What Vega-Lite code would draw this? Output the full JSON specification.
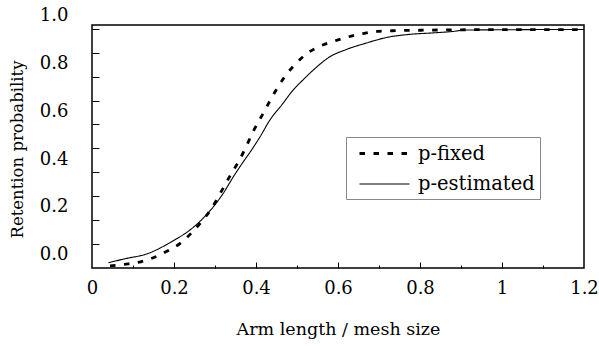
{
  "$schema": "https://vega.github.io/schema/vega-lite/v6.json",
  "autosize": "none",
  "width": 492,
  "height": 243,
  "padding": {"left": 92, "top": 25, "right": 15, "bottom": 79},
  "background": "white",
  "config": {
    "font": "DejaVu Serif",
    "view": {"stroke": "black", "strokeWidth": 1.5},
    "axis": {
      "labelColor": "black", "titleColor": "black", "tickColor": "black",
      "labelFont": "DejaVu Serif", "titleFont": "DejaVu Serif",
      "titleFontWeight": "normal", "grid": false, "domain": false
    },
    "legend": {
      "orient": "none", "legendX": 254, "legendY": 112,
      "padding": 5, "strokeColor": "#888", "fillColor": "white",
      "labelFont": "DejaVu Serif", "labelFontSize": 19.5, "labelColor": "black",
      "symbolType": "M-0.3,0H4.7", "symbolSize": 400, "symbolStrokeColor": "black",
      "symbolFillColor": "transparent",
      "labelOffset": 44, "rowPadding": 10
    }
  },
  "data": {
    "values": [
      {"x": 0.044, "y": -0.091, "s": "p-fixed"},
      {"x": 0.083, "y": -0.084, "s": "p-fixed"},
      {"x": 0.119, "y": -0.074, "s": "p-fixed"},
      {"x": 0.151, "y": -0.056, "s": "p-fixed"},
      {"x": 0.185, "y": -0.028, "s": "p-fixed"},
      {"x": 0.215, "y": 0.003, "s": "p-fixed"},
      {"x": 0.244, "y": 0.049, "s": "p-fixed"},
      {"x": 0.268, "y": 0.096, "s": "p-fixed"},
      {"x": 0.290, "y": 0.145, "s": "p-fixed"},
      {"x": 0.307, "y": 0.194, "s": "p-fixed"},
      {"x": 0.324, "y": 0.247, "s": "p-fixed"},
      {"x": 0.341, "y": 0.298, "s": "p-fixed"},
      {"x": 0.359, "y": 0.349, "s": "p-fixed"},
      {"x": 0.376, "y": 0.408, "s": "p-fixed"},
      {"x": 0.393, "y": 0.470, "s": "p-fixed"},
      {"x": 0.417, "y": 0.545, "s": "p-fixed"},
      {"x": 0.436, "y": 0.605, "s": "p-fixed"},
      {"x": 0.454, "y": 0.658, "s": "p-fixed"},
      {"x": 0.473, "y": 0.707, "s": "p-fixed"},
      {"x": 0.498, "y": 0.756, "s": "p-fixed"},
      {"x": 0.522, "y": 0.794, "s": "p-fixed"},
      {"x": 0.554, "y": 0.826, "s": "p-fixed"},
      {"x": 0.588, "y": 0.847, "s": "p-fixed"},
      {"x": 0.624, "y": 0.866, "s": "p-fixed"},
      {"x": 0.661, "y": 0.880, "s": "p-fixed"},
      {"x": 0.695, "y": 0.889, "s": "p-fixed"},
      {"x": 0.732, "y": 0.892, "s": "p-fixed"},
      {"x": 0.800, "y": 0.894, "s": "p-fixed"},
      {"x": 0.900, "y": 0.896, "s": "p-fixed"},
      {"x": 1.000, "y": 0.897, "s": "p-fixed"},
      {"x": 1.100, "y": 0.897, "s": "p-fixed"},
      {"x": 1.200, "y": 0.897, "s": "p-fixed"},
      {"x": 0.040, "y": -0.078, "s": "p-estimated"},
      {"x": 0.076, "y": -0.063, "s": "p-estimated"},
      {"x": 0.137, "y": -0.039, "s": "p-estimated"},
      {"x": 0.198, "y": 0.014, "s": "p-estimated"},
      {"x": 0.239, "y": 0.059, "s": "p-estimated"},
      {"x": 0.271, "y": 0.108, "s": "p-estimated"},
      {"x": 0.296, "y": 0.156, "s": "p-estimated"},
      {"x": 0.320, "y": 0.212, "s": "p-estimated"},
      {"x": 0.345, "y": 0.282, "s": "p-estimated"},
      {"x": 0.369, "y": 0.344, "s": "p-estimated"},
      {"x": 0.385, "y": 0.383, "s": "p-estimated"},
      {"x": 0.410, "y": 0.449, "s": "p-estimated"},
      {"x": 0.434, "y": 0.519, "s": "p-estimated"},
      {"x": 0.463, "y": 0.582, "s": "p-estimated"},
      {"x": 0.491, "y": 0.645, "s": "p-estimated"},
      {"x": 0.515, "y": 0.687, "s": "p-estimated"},
      {"x": 0.540, "y": 0.728, "s": "p-estimated"},
      {"x": 0.580, "y": 0.783, "s": "p-estimated"},
      {"x": 0.621, "y": 0.814, "s": "p-estimated"},
      {"x": 0.670, "y": 0.841, "s": "p-estimated"},
      {"x": 0.719, "y": 0.864, "s": "p-estimated"},
      {"x": 0.776, "y": 0.877, "s": "p-estimated"},
      {"x": 0.832, "y": 0.883, "s": "p-estimated"},
      {"x": 0.880, "y": 0.889, "s": "p-estimated"},
      {"x": 0.910, "y": 0.895, "s": "p-estimated"},
      {"x": 1.000, "y": 0.896, "s": "p-estimated"},
      {"x": 1.100, "y": 0.897, "s": "p-estimated"},
      {"x": 1.200, "y": 0.897, "s": "p-estimated"}
    ]
  },
  "resolve": {"axis": {"x": "independent", "y": "independent"}},
  "layer": [
    {
      "mark": {"type": "line", "interpolate": "monotone", "color": "black"},
      "encoding": {
        "x": {"field": "x", "type": "quantitative", "scale": {"domain": [0, 1.2], "nice": false, "zero": false},
          "axis": {"orient": "bottom", "values": [0, 0.2, 0.4, 0.6, 0.8, 1, 1.2], "format": ".1~f",
            "ticks": false, "tickSize": 0, "labelPadding": 11, "labelFontSize": 18, "labelFlush": false, "labelOverlap": false,
            "title": "Arm length / mesh size", "titleFontSize": 17.5, "titleY": 61, "titleBaseline": "middle"}},
        "y": {"field": "y", "type": "quantitative", "scale": {"domain": [-0.1, 0.916], "nice": false, "zero": false},
          "axis": {"orient": "left", "values": [-0.095, 0.105, 0.305, 0.505, 0.705, 0.905],
            "labelExpr": "format(datum.value + 0.095, '.1f')", "labelOffset": -12,
            "ticks": false, "tickSize": 0, "labelPadding": 24, "labelFontSize": 18, "labelFlush": false, "labelOverlap": false,
            "title": "Retention probability", "titleFontSize": 16.5, "titleX": -75, "titleY": 124, "titleBaseline": "middle", "titleAngle": -90}},
        "strokeDash": {"field": "s", "type": "nominal",
          "scale": {"domain": ["p-fixed", "p-estimated"], "range": [[5.5, 8.5], [1, 0]]},
          "legend": {"title": null}},
        "strokeWidth": {"field": "s", "type": "nominal",
          "scale": {"domain": ["p-fixed", "p-estimated"], "range": [2.8, 1.1]},
          "legend": {"title": null}}
      }
    },
    {
      "mark": {"type": "line", "opacity": 0},
      "encoding": {
        "x": {"field": "x", "type": "quantitative", "scale": {"domain": [0, 1.2], "nice": false, "zero": false},
          "axis": {"orient": "bottom", "values": [0.2, 0.4, 0.6, 0.8, 1.0], "tickSize": -6, "labels": false, "title": null}},
        "y": {"field": "y", "type": "quantitative", "scale": {"domain": [-0.1, 0.916], "nice": false, "zero": false},
          "axis": {"orient": "left", "values": [0, 0.1, 0.2, 0.3, 0.4, 0.5, 0.6, 0.7, 0.8, 0.9], "tickSize": -7, "labels": false, "title": null}},
        "detail": {"field": "s", "type": "nominal"}
      }
    },
    {
      "mark": {"type": "line", "opacity": 0},
      "encoding": {
        "x": {"field": "x", "type": "quantitative", "scale": {"domain": [0, 1.2], "nice": false, "zero": false},
          "axis": {"orient": "bottom", "values": [0.1, 0.3, 0.5, 0.7, 0.9, 1.1], "tickSize": -3, "labels": false, "title": null}},
        "y": {"field": "y", "type": "quantitative", "scale": {"domain": [-0.1, 0.916], "nice": false, "zero": false}, "axis": null},
        "detail": {"field": "s", "type": "nominal"}
      }
    }
  ]
}
